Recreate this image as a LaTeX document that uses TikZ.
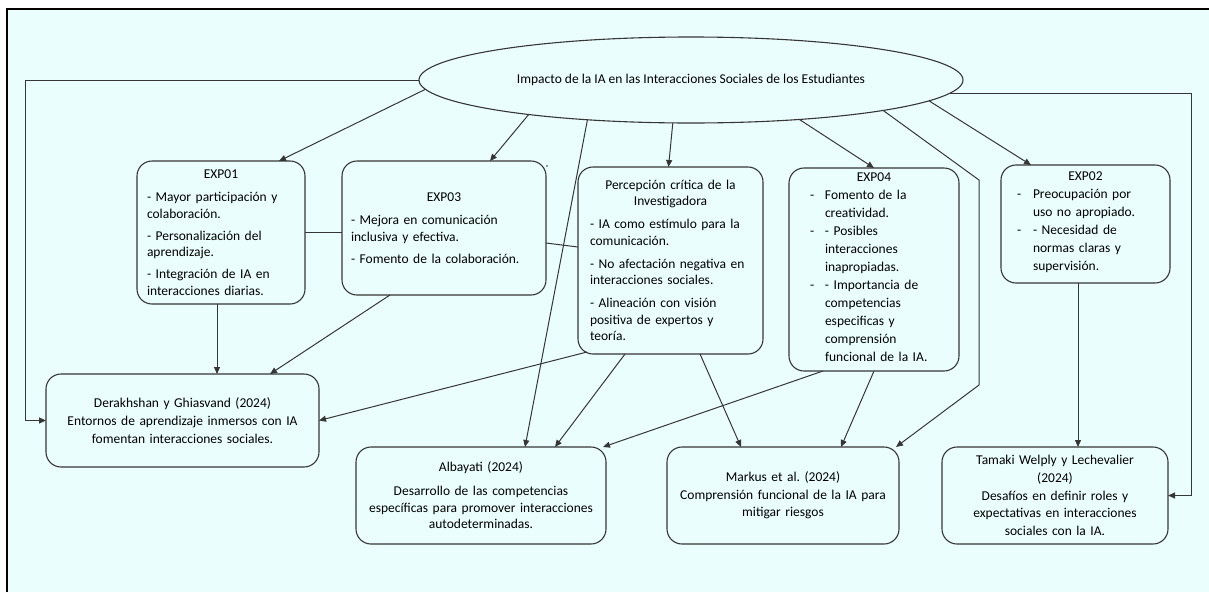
\documentclass[tikz,border=0pt]{standalone}
\usepackage{fontspec}
\setmainfont{Carlito}
\usetikzlibrary{arrows.meta,shapes.geometric,calc}
\definecolor{bgcyan}{HTML}{EBFEFE}
\definecolor{ink}{HTML}{363636}
\begin{document}
\begin{tikzpicture}[x=1pt,y=-1pt,
  box/.style={draw=ink, line width=1.1pt, rounded corners=15pt, align=left,
    inner ysep=0pt, outer sep=0pt, text=black,
    font=\fontsize{13.5}{16.5}\selectfont},
  wide/.style={font=\fontsize{13.5}{18}\selectfont},
  arr/.style={draw=ink, line width=1pt, -{Triangle[length=7pt,width=6pt]}},
  link/.style={draw=ink, line width=1pt}]

% page, tinted panel and its frame
\useasboundingbox (0,0) rectangle (1209,592);
\fill[white] (0,0) rectangle (1209,592);
\fill[bgcyan] (7,9) rectangle (1209,592);
\draw[black, line width=2.2pt] (7,592) -- (7,9) -- (1209,9);

% central topic
\node[ellipse, draw=ink, line width=1.1pt, minimum width=544pt, minimum height=86pt,
  inner sep=0pt, outer sep=0pt, text=black, font=\fontsize{13.5}{16.5}\selectfont]
  (ell) at (691,80) {Impacto de la IA en las Interacciones Sociales de los Estudiantes};

% first row: expert views and the researcher's view
\node[box, minimum width=168pt, minimum height=143pt, text width=148pt, inner xsep=10pt]
  (exp01) at (221,232.5) {\centerline{EXP01}\par\vspace{7pt}
  - Mayor participación y\\colaboración.\par\vspace{5.5pt}
  - Personalización del\\aprendizaje.\par\vspace{5.5pt}
  - Integración de IA en\\interacciones diarias.};

\node[box, minimum width=204pt, minimum height=134pt, text width=186pt, inner xsep=9pt]
  (exp03) at (444,228) {\centerline{EXP03}\par\vspace{6.5pt}
  - Mejora en comunicación\\inclusiva y efectiva.\par\vspace{5.5pt}
  - Fomento de la colaboración.};

\node[box, minimum width=185pt, minimum height=187pt, text width=161pt, inner xsep=12pt]
  (perc) at (670.5,260.5) {{\centering Percepción crítica de la\\Investigadora\par}\vspace{6.5pt}
  - IA como estímulo para la\\comunicación.\par\vspace{6.5pt}
  - No afectación negativa en\\interacciones sociales.\par\vspace{6.5pt}
  - Alineación con visión\\positiva de expertos y\\teoría.};

\node[box, wide, minimum width=170pt, minimum height=203pt, text width=128pt, inner xsep=21pt]
  (exp04) at (874,269.5) {\centerline{EXP04}\par
  \begin{tabular}[t]{@{}p{15pt}@{}l@{}}
  -&Fomento de la\\
   &creatividad.\\
  -&- Posibles\\
   &interacciones\\
   &inapropiadas.\\
  -&- Importancia de\\
   &competencias\\
   &especificas y\\
   &comprensión\\
   &funcional de la IA.
  \end{tabular}};

\node[box, wide, minimum width=169pt, minimum height=118pt, text width=137pt, inner xsep=16pt]
  (exp02) at (1085.5,224) {\centerline{EXP02}\par
  \begin{tabular}[t]{@{}p{16pt}@{}l@{}}
  -&Preocupación por\\
   &uso no apropiado.\\
  -&- Necesidad de\\
   &normas claras y\\
   &supervisión.
  \end{tabular}};

% second row: literature
\node[box, wide, align=center, minimum width=273pt, minimum height=93pt, text width=269pt, inner xsep=2pt]
  (der) at (182.5,420.5) {Derakhshan y Ghiasvand (2024)\\Entornos de aprendizaje inmersos con IA\\fomentan interacciones sociales.};

\node[box, align=center, minimum width=250pt, minimum height=97pt, text width=246pt, inner xsep=2pt]
  (alb) at (481,495.5) {Albayati (2024)\\[7.5pt]Desarrollo de las competencias\\específicas para promover interacciones\\autodeterminadas.};

\node[box, align=center, minimum width=232pt, minimum height=97pt, text width=228pt, inner xsep=2pt,
  font=\fontsize{13.5}{17.5}\selectfont]
  (mar) at (783,495.5) {Markus et al.\ (2024)\\Comprensión funcional de la IA para\\mitigar riesgos};

\node[box, align=center, minimum width=226pt, minimum height=97pt, text width=222pt, inner xsep=2pt,
  font=\fontsize{13.5}{17.8}\selectfont]
  (tam) at (1055,495.5) {Tamaki Welply y Lechevalier\\(2024)\\Desafíos en definir roles y\\expectativas en interacciones\\sociales con la IA.};

\fill[ink] (547,166) circle (0.8pt);

% connectors from the central topic
\draw[arr] (ell.west) -| ([xshift=-21pt]der.west) -- (der.west);
\draw[arr] (ell.357.7) -| ([xshift=23pt]tam.east) -- (tam.east);
\draw[arr] (ell.182.7) -- ([xshift=58pt]exp01.north);
\draw[arr] (ell.192.7) -- ([xshift=46pt]exp03.north);
\draw[arr] (ell.201.1) -- ([xshift=44pt]alb.north);
\draw[arr] (ell.247.2) -- ([xshift=-2pt]perc.north);
\draw[arr] (ell.340.9) -- (exp04.north);
\draw[arr] (ell.355.8) -- ([xshift=-54.5pt]exp02.north);
\draw[arr] (ell.351) -- ($(exp04.north east)+(20,12)$) -- ($(exp04.south east)+(20,14)$)
  -- ([xshift=-3pt]mar.north east);

% connectors between the boxes
\draw[link] (exp01.east) -- (exp01.east -| exp03.west);
\draw[link] ([yshift=-15pt]exp03.east) -- ([yshift=13.5pt]perc.west);
\draw[arr] ([xshift=-4pt]exp01.south) -- ([xshift=-4pt]exp01.south |- der.north);
\draw[arr] ([xshift=-54pt]exp03.south) -- ([xshift=87.5pt]der.north);
\draw[arr] ($(perc.south west)+(9,-2)$) -- (der.east);
\draw[arr] ([xshift=-45.5pt]perc.south) -- ([xshift=74pt]alb.north);
\draw[arr] ([xshift=29.5pt]perc.south) -- ([xshift=-42pt]mar.north);
\draw[arr] ([xshift=-51pt]exp04.south) -- ([xshift=-3pt]alb.north east);
\draw[arr] (exp04.south) -- ([xshift=58pt]mar.north);
\draw[arr] ([xshift=-7.5pt]exp02.south) -- ([xshift=-7.5pt]exp02.south |- tam.north);
\end{tikzpicture}
\end{document}
